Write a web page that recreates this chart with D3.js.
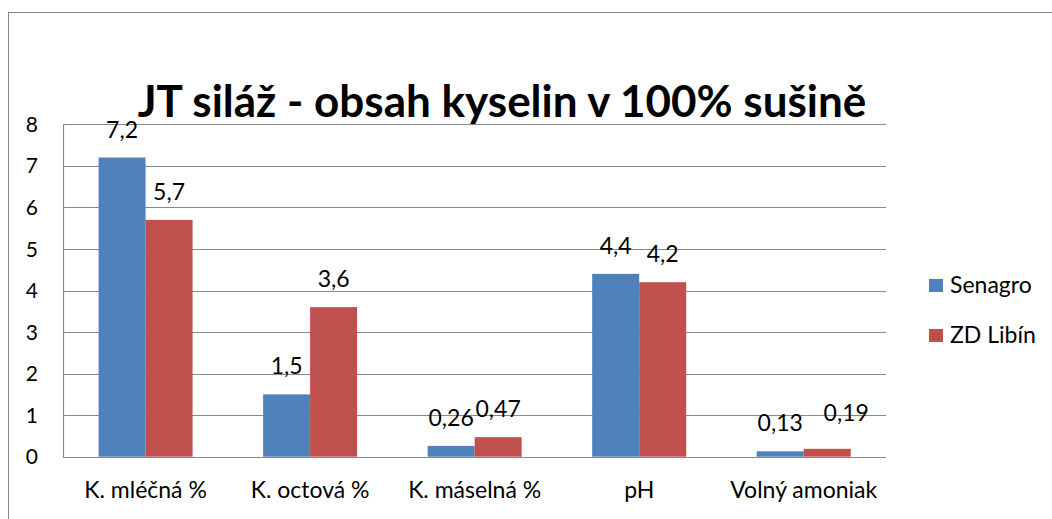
<!DOCTYPE html>
<html>
<head>
<meta charset="utf-8">
<script src="https://cdn.jsdelivr.net/npm/d3@7"></script>
<style>
  html, body { margin: 0; padding: 0; background: #fff; }
  svg { display: block; }
  text { font-family: Lato, "Noto Sans", sans-serif; fill: #000; }
</style>
</head>
<body>
<svg id="chart" width="1052" height="519"></svg>
<script>
const title = "JT siláž - obsah kyselin v 100% sušině";
const categories = ["K. mléčná %", "K. octová %", "K. máselná %", "pH", "Volný amoniak"];
const seriesNames = ["Senagro", "ZD Libín"];
const senagro = [7.2, 1.5, 0.26, 4.4, 0.13];
const zdLibin = [5.7, 3.6, 0.47, 4.2, 0.19];
const yTicks = [0, 1, 2, 3, 4, 5, 6, 7, 8];
const colors = ["#4F81BD", "#C0504D"];

const fmt = v => String(v).replace(".", ",");
const seriesValues = [senagro, zdLibin];

const svg = d3.select("#chart");
const plotLeft = 63.3, plotRight = 886, plotTop = 124.3, plotBottom = 456.7;

// outer chart border
svg.append("rect").attr("x", 8.5).attr("y", 12.5).attr("width", 1200).attr("height", 700)
  .attr("fill", "none").attr("stroke", "#868686").attr("stroke-width", 1);

const y = d3.scaleLinear().domain([0, 8]).range([plotBottom, plotTop]);
const x0 = d3.scaleBand().domain(categories).range([plotLeft, plotRight]).padding(0);
const bw = x0.bandwidth();
const x1 = d3.scaleBand().domain(seriesNames).range([bw * 0.2143, bw * 0.7857]).padding(0);

// gridlines
svg.append("g").selectAll("line").data(yTicks).join("line")
  .attr("x1", plotLeft).attr("x2", plotRight)
  .attr("y1", d => Math.round(y(d)) + 0.5).attr("y2", d => Math.round(y(d)) + 0.5)
  .attr("stroke", "#888").attr("stroke-width", 1.2);
// left axis line
svg.append("line").attr("x1", Math.round(plotLeft) + 0.5).attr("x2", Math.round(plotLeft) + 0.5)
  .attr("y1", Math.round(y(8)) + 0.5).attr("y2", Math.round(y(0)) + 0.5)
  .attr("stroke", "#888").attr("stroke-width", 1.2);

// y tick labels
svg.append("g").selectAll("text").data(yTicks).join("text")
  .attr("x", 38).attr("y", d => y(d)).attr("dy", "0.36em")
  .attr("text-anchor", "end").attr("font-size", 21).text(d => d);

// bars
const groups = svg.append("g").selectAll("g").data(categories).join("g")
  .attr("transform", c => `translate(${x0(c)},0)`);
const cellData = (c, i) => seriesNames.map((s, j) => ({s, v: seriesValues[j][i], j, i}));
groups.selectAll("rect").data(cellData)
  .join("rect")
  .attr("x", d => x1(d.s)).attr("width", x1.bandwidth())
  .attr("y", d => y(d.v)).attr("height", d => y(0) - y(d.v))
  .attr("fill", d => colors[d.j]);
// the last ZD Libín label was moved aside in the original to avoid overlap
const moved = d => d.i === categories.length - 1 && d.j === 1;
groups.selectAll("text").data(cellData)
  .join("text")
  .attr("x", d => x1(d.s) + x1.bandwidth() / 2 + (moved(d) ? 19 : 0))
  .attr("y", d => y(d.v) - 20 - (moved(d) ? 8 : 0))
  .attr("text-anchor", "middle").attr("font-size", 23)
  .text(d => fmt(d.v));

// category labels
svg.append("g").selectAll("text").data(categories).join("text")
  .attr("x", c => x0(c) + bw / 2).attr("y", 498)
  .attr("text-anchor", "middle").attr("font-size", 23).text(c => c);

// title
svg.append("text").attr("x", 502).attr("y", 117).attr("text-anchor", "middle")
  .attr("font-size", 44).attr("font-weight", "bold").text(title);

// legend
const lg = svg.append("g").selectAll("g").data(seriesNames).join("g")
  .attr("transform", (d, i) => `translate(929,${279 + i * 50})`);
lg.append("rect").attr("width", 14).attr("height", 13).attr("fill", (d, i) => colors[i]);
lg.append("text").attr("x", 21).attr("y", 14).attr("font-size", 23).text(d => d);
</script>
</body>
</html>
